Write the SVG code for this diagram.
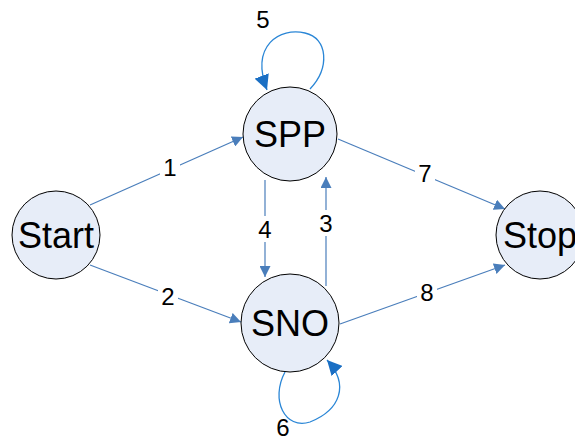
<svg xmlns="http://www.w3.org/2000/svg" width="575" height="439" viewBox="0 0 575 439">
<style>
.node{fill:#e7edf8;stroke:#000;stroke-width:1}
.nl{font-family:"Liberation Sans",Arial,sans-serif;font-size:36px;text-anchor:middle;fill:#000}
.el{font-family:"Liberation Sans",Arial,sans-serif;font-size:24px;text-anchor:middle;fill:#000}
.e{stroke:#4a7ebb;stroke-width:1.2;fill:none;marker-end:url(#a)}
.loop{stroke:#2a86d6;stroke-width:1.3;fill:none;marker-end:url(#b)}
.bg{fill:#fff}
</style>
<defs>
<marker id="a" viewBox="0 0 10 10" refX="10" refY="5" markerWidth="11" markerHeight="11" markerUnits="userSpaceOnUse" orient="auto"><path d="M0,0 L10,5 L0,10 z" fill="#4a7ebb"/></marker>
<marker id="b" viewBox="0 0 10 10" refX="10" refY="5" markerWidth="15" markerHeight="15" markerUnits="userSpaceOnUse" orient="auto"><path d="M0,0 L10,5 L0,10 z" fill="#1a6fc4"/></marker>
</defs>
<rect width="575" height="439" fill="#fff"/>
<g id="connectors">
<path class="e" d="M90,205 L243,137"/>
<path class="e" d="M90,265 L241,322"/>
<path class="e" d="M265,180 L265,277"/>
<path class="e" d="M326,286 L326,177"/>
<path class="e" d="M338,139 L505,209"/>
<path class="e" d="M340,324 L505,265"/>
<path class="loop" d="M310,89 C330,68 328,38 305,33 C280,27 250,45 267,90"/>
<path class="loop" d="M285,372 C270,400 285,430 310,422 C340,410 350,385 327,360"/>
<rect class="bg" x="160" y="155" width="20" height="24"/>
<text class="el" x="170" y="176">1</text>
<rect class="bg" x="158" y="284" width="20" height="24"/>
<text class="el" x="168" y="305">2</text>
<rect class="bg" x="255" y="216" width="20" height="26"/>
<text class="el" x="265" y="238">4</text>
<rect class="bg" x="316" y="210" width="20" height="26"/>
<text class="el" x="326" y="232">3</text>
<rect class="bg" x="415" y="160" width="20" height="26"/>
<text class="el" x="425" y="182">7</text>
<rect class="bg" x="417" y="279" width="20" height="26"/>
<text class="el" x="427" y="301">8</text>
<text class="el" x="263" y="28">5</text>
<text class="el" x="283" y="436">6</text>
</g>
<g id="Start"><circle class="node" cx="56" cy="235" r="44"/><text class="nl" x="56" y="248">Start</text></g>
<g id="SPP"><circle class="node" cx="290" cy="134" r="47"/><text class="nl" x="290" y="147">SPP</text></g>
<g id="SNO"><circle class="node" cx="290" cy="323" r="49"/><text class="nl" x="290" y="336">SNO</text></g>
<g id="Stop"><circle class="node" cx="540" cy="235" r="44"/><text class="nl" x="540" y="248">Stop</text></g>
</svg>
